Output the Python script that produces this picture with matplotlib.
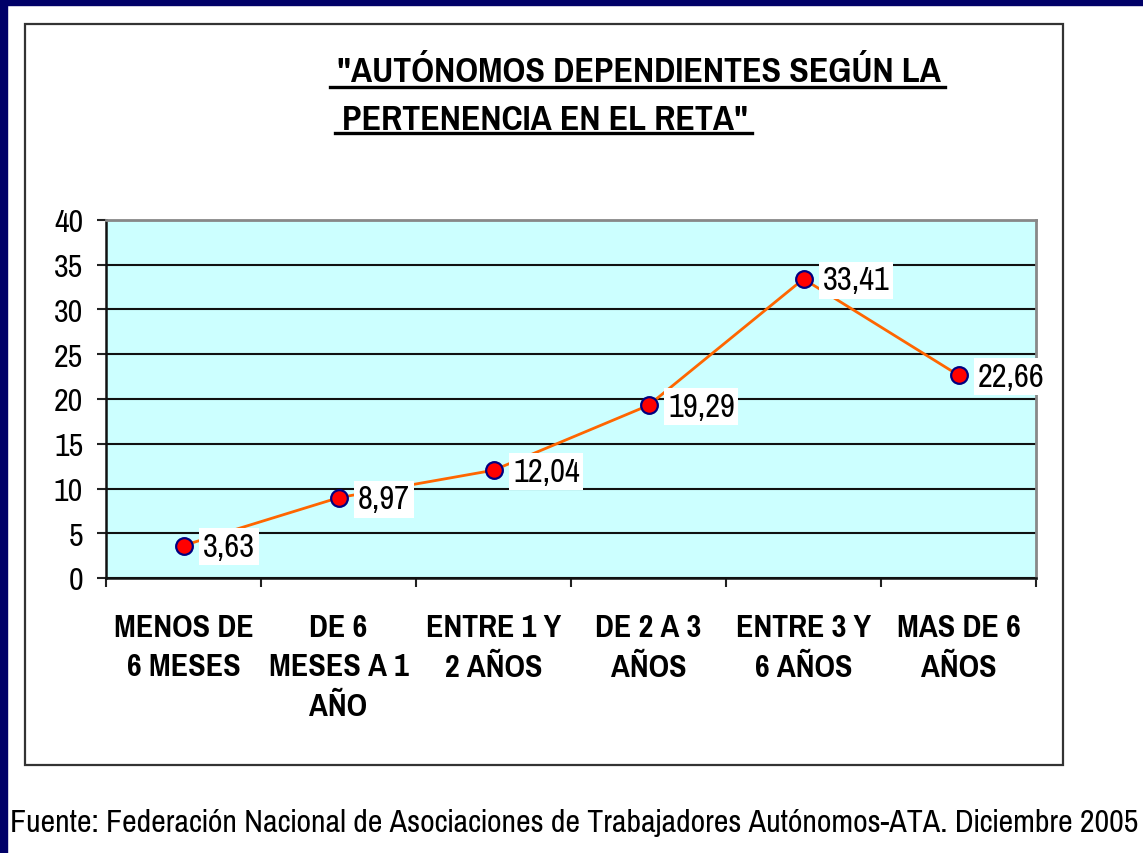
import matplotlib
matplotlib.use("Agg")
import matplotlib.pyplot as plt
from matplotlib.patches import Rectangle
from matplotlib.lines import Line2D

categories = ["MENOS DE\n6 MESES", "DE 6\nMESES A 1\nAÑO", "ENTRE 1 Y\n2 AÑOS",
              "DE 2 A 3\nAÑOS", "ENTRE 3 Y\n6 AÑOS", "MAS DE 6\nAÑOS"]
values = [3.63, 8.97, 12.04, 19.29, 33.41, 22.66]
value_labels = ["3,63", "8,97", "12,04", "19,29", "33,41", "22,66"]
yticks = [0, 5, 10, 15, 20, 25, 30, 35, 40]
title_lines = ['"AUTÓNOMOS DEPENDIENTES SEGÚN LA', 'PERTENENCIA EN EL RETA"']
source = "Fuente: Federación Nacional de Asociaciones de Trabajadores Autónomos-ATA. Diciembre 2005"

plt.rcParams["font.family"] = ["Pragati Narrow", "Liberation Sans", "DejaVu Sans"]

W, H = 1143, 854
fig = plt.figure(figsize=(W / 100, H / 100), dpi=100)
fig.patch.set_facecolor("white")


def fx(x):
    return x / W


def fy(y):
    return 1 - y / H


# navy frame of the slide (top and left)
navy = "#000068"
fig.add_artist(Rectangle((0, fy(6)), 1, 6 / H, transform=fig.transFigure, color=navy, zorder=0))
fig.add_artist(Rectangle((0, 0), 7 / W, 1, transform=fig.transFigure, color=navy, zorder=0))

# chart frame
fig.add_artist(Rectangle((fx(25), fy(766)), (1063 - 25) / W, (766 - 25) / H,
                         transform=fig.transFigure, fill=False, ec="#333333", lw=1.6, zorder=1))

ax = fig.add_axes([fx(106), fy(579), (1036 - 106) / W, (579 - 221) / H])
ax.set_facecolor("#ccffff")

x = list(range(len(values)))
ax.plot(x, values, color="#ff6600", lw=2, zorder=3,
        marker="o", ms=12, mfc="#ff0000", mec="#000080", mew=1.6)

for xi, v, lab in zip(x, values, value_labels):
    ax.annotate(lab, (xi, v), xytext=(14, -1), textcoords="offset points",
                ha="left", va="center", fontsize=25.5, color="black", zorder=4,
                bbox=dict(boxstyle="square,pad=0.1", fc="white", ec="none"))

ax.set_xlim(-0.5, len(values) - 0.5)
ax.set_ylim(0, 40)
ax.set_yticks(yticks)
ax.set_yticklabels([str(t) for t in yticks], fontsize=25)
ax.yaxis.grid(True, color="#111111", lw=1.5)
ax.set_axisbelow(True)

# tick marks between categories, labels centred on each category
ax.set_xticks([i - 0.5 for i in range(len(values) + 1)])
ax.set_xticklabels([])
ax.set_xticks(x, minor=True)
ax.set_xticklabels(categories, minor=True, fontsize=25, fontweight="bold",
                   linespacing=1.5, va="top")
ax.tick_params(axis="x", which="major", length=6.5, width=1.5, direction="out", color="#222222")
ax.tick_params(axis="x", which="minor", length=0, pad=25)
ax.tick_params(axis="y", length=6.5, width=1.5, direction="out", pad=10, color="#222222")

for side in ["left", "bottom"]:
    ax.spines[side].set_color("#111111")
    ax.spines[side].set_linewidth(1.8)
for side in ["top", "right"]:
    ax.spines[side].set_color("#888888")
    ax.spines[side].set_linewidth(2)

# title with underline
t1 = fig.text(fx(337), fy(82), title_lines[0], fontsize=28, fontweight="bold", ha="left", va="baseline")
t2 = fig.text(fx(342), fy(130), title_lines[1], fontsize=28, fontweight="bold", ha="left", va="baseline")
fig.canvas.draw()
inv = fig.transFigure.inverted()
for t, uy in [(t1, 88), (t2, 134)]:
    bb = t.get_window_extent()
    (x0, _), (x1, _) = inv.transform([(bb.x0, 0), (bb.x1, 0)])
    fig.add_artist(Line2D([x0 - 7 / W, x1 + 4 / W], [fy(uy), fy(uy)], transform=fig.transFigure,
                          color="black", lw=2.4))

fig.text(fx(10), fy(832), source, fontsize=25, ha="left", va="baseline")

fig.savefig("out.png", dpi=100, facecolor="white")
